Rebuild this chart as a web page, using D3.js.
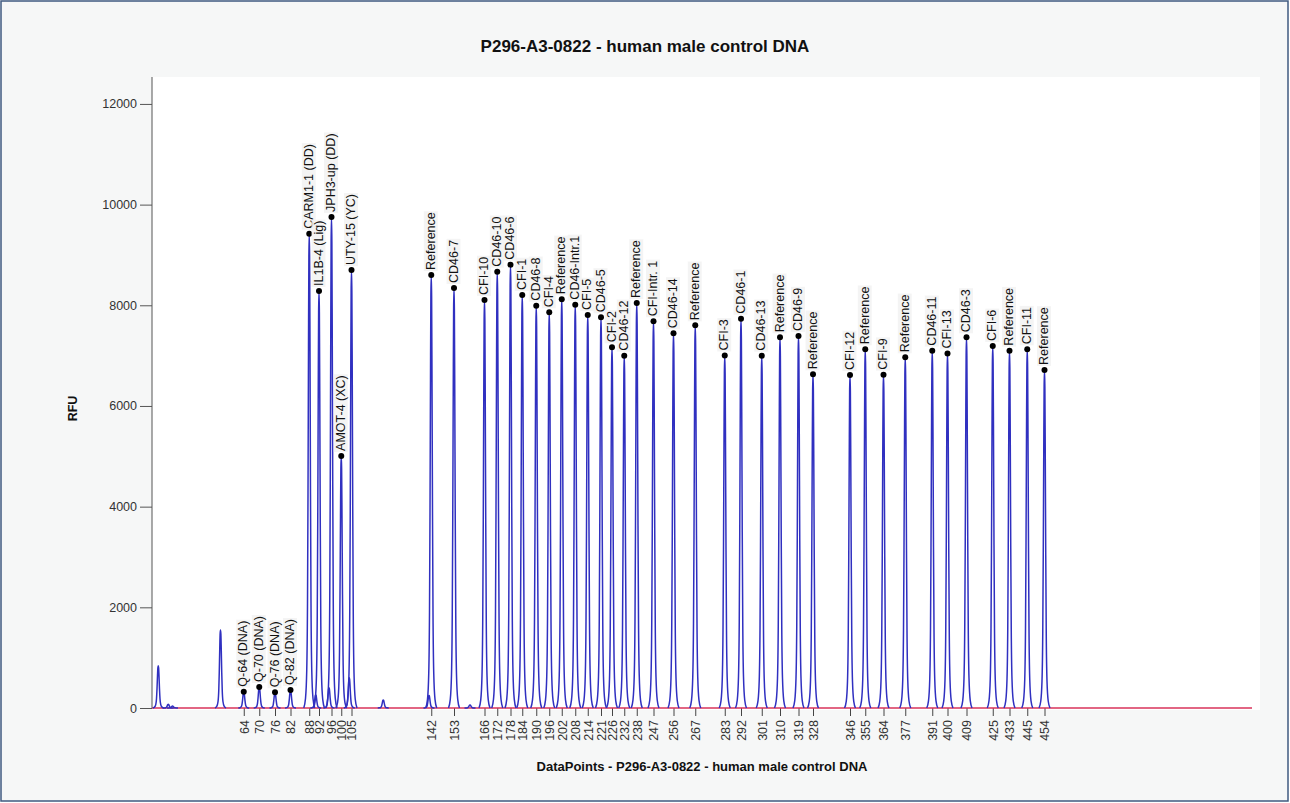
<!DOCTYPE html>
<html>
<head>
<meta charset="utf-8">
<script src="https://cdn.jsdelivr.net/npm/d3@7"></script>
<style>
  body { margin: 0; background: #ffffff; }
  svg { display: block; font-family: Arial, "Liberation Sans", sans-serif; }
</style>
</head>
<body>
<div id="chart"></div>
<script>
// size labels shown under each called peak
const sizeLabels = [64, 70, 76, 82, 88, 92, 96, 100, 105, 142, 153, 166, 172, 178, 184, 190, 196, 202, 208, 214,
  221, 226, 232, 238, 247, 256, 267, 283, 292, 301, 310, 319, 328, 346, 355, 364, 377, 391, 400, 409, 425, 433, 445, 454];

const peakNames = ["Q-64 (DNA)", "Q-70 (DNA)", "Q-76 (DNA)", "Q-82 (DNA)", "CARM1-1 (DD)", "IL1B-4 (Lig)", "JPH3-up (DD)",
  "AMOT-4 (XC)", "UTY-15 (YC)", "Reference", "CD46-7", "CFI-10", "CD46-10", "CD46-6", "CFI-1", "CD46-8", "CFI-4",
  "Reference", "CD46-Intr.1", "CFI-5", "CD46-5", "CFI-2", "CD46-12", "Reference", "CFI-Intr. 1", "CD46-14", "Reference",
  "CFI-3", "CD46-1", "CD46-13", "Reference", "CD46-9", "Reference", "CFI-12", "Reference", "CFI-9", "Reference",
  "CD46-11", "CFI-13", "CD46-3", "CFI-6", "Reference", "CFI-11", "Reference"];

// peak positions in data points
const peakPos = [367, 429, 492, 554, 629, 668, 718, 757, 798, 1117, 1208, 1330, 1381, 1434, 1481, 1537, 1589,
  1639, 1693, 1743, 1796, 1840, 1889, 1939, 2006, 2086, 2173, 2291, 2356, 2439, 2512, 2586, 2644, 2792, 2853,
  2926, 3013, 3121, 3182, 3258, 3363, 3430, 3501, 3570];

// peak heights in RFU
const peakRFU = [324, 417, 311, 357, 9420, 8285, 9755, 5007, 8700, 8603, 8344, 8106, 8668, 8807, 8205, 7993, 7861,
  8119, 8013, 7808, 7762, 7166, 7000, 8046, 7682, 7444, 7603, 7004, 7734, 7000, 7364, 7391, 6630, 6616, 7127,
  6622, 6967, 7099, 7040, 7364, 7192, 7099, 7127, 6716];

// uncalled peaks, shoulders and bumps
const minorPos = [25, 65, 82, 274, 655, 708, 789, 925, 1108, 1272];
const minorRFU = [841, 75, 40, 1550, 260, 400, 600, 160, 250, 60];

const yTicks = [0, 2000, 4000, 6000, 8000, 10000, 12000];

// normalised peak profile: [offset in data points, fraction of height]
const peakShape = [[-22, 0], [-15, 0.02], [-10, 0.08], [-7, 0.22], [-5, 0.45], [-3, 0.76], [-1.5, 0.95], [0, 1],
  [1.5, 0.95], [3, 0.76], [5, 0.45], [7, 0.22], [10, 0.08], [15, 0.02], [22, 0]];

const chartTitle = "P296-A3-0822 - human male control DNA";
const xTitle = "DataPoints - P296-A3-0822 - human male control DNA";

const width = 1290, height = 803;
const plot = { left: 152, right: 1252, top: 77, bottom: 708 };

const svg = d3.select("#chart").append("svg")
  .attr("width", width)
  .attr("height", height);

// page background + frame
svg.append("rect")
  .attr("x", 1).attr("y", 1)
  .attr("width", width - 3).attr("height", height - 3)
  .attr("fill", "#f6f7f7")
  .attr("stroke", "#3f5a80")
  .attr("stroke-width", 1.5);

svg.append("rect")
  .attr("x", plot.left).attr("y", plot.top)
  .attr("width", plot.right - plot.left + 8).attr("height", plot.bottom - plot.top + 2)
  .attr("fill", "#ffffff");

const x = d3.scaleLinear().domain([0, 4400]).range([plot.left, plot.right]);
const y = d3.scaleLinear().domain([0, 12535]).range([plot.bottom, plot.top]);

// title
svg.append("text")
  .attr("x", width / 2).attr("y", 52)
  .attr("text-anchor", "middle")
  .attr("font-size", 17).attr("font-weight", "bold")
  .attr("fill", "#111")
  .text(chartTitle);

// y axis
const yAxis = svg.append("g")
  .attr("transform", `translate(${plot.left},0)`)
  .call(d3.axisLeft(y).tickValues(yTicks).tickSize(12).tickPadding(3).tickFormat(d3.format("d")));
yAxis.select(".domain").attr("stroke", "#555").attr("d", `M0,${plot.top}V${plot.bottom}`);
yAxis.selectAll(".tick line").attr("stroke", "#555");
yAxis.selectAll(".tick text").attr("font-size", 12.5).attr("fill", "#333").attr("font-family", "Arial, 'Liberation Sans', sans-serif");

svg.append("text")
  .attr("transform", `translate(77,${(plot.top + plot.bottom) / 2 + 16}) rotate(-90)`)
  .attr("text-anchor", "middle")
  .attr("font-size", 12.5).attr("font-weight", "bold")
  .attr("fill", "#111")
  .text("RFU");

// x axis: ticks at the called peaks, labelled with size
const xAxis = svg.append("g")
  .attr("transform", `translate(0,${plot.bottom})`)
  .call(d3.axisBottom(x).tickValues(peakPos).tickSize(8).tickFormat((d, i) => sizeLabels[i]));
xAxis.select(".domain").remove();
xAxis.selectAll(".tick line").attr("stroke", "#444");
xAxis.selectAll(".tick text")
  .attr("font-size", 12.5).attr("fill", "#333")
  .attr("font-family", "Arial, 'Liberation Sans', sans-serif")
  .attr("text-anchor", "end")
  .attr("transform", "translate(0,12) rotate(-90)")
  .attr("x", 0).attr("y", 0).attr("dy", "0.35em");

svg.append("text")
  .attr("x", (plot.left + plot.right) / 2).attr("y", 771)
  .attr("text-anchor", "middle")
  .attr("font-size", 13).attr("font-weight", "bold")
  .attr("fill", "#111")
  .text(xTitle);

// baseline
svg.append("line")
  .attr("x1", x(0)).attr("x2", x(4400))
  .attr("y1", y(0)).attr("y2", y(0))
  .attr("stroke", "#d8335a").attr("stroke-width", 1.5);

// trace
const line = d3.line()
  .x(d => x(d[0]))
  .y(d => y(d[1]))
  .curve(d3.curveMonotoneX);

const allPeaks = peakPos.map((p, i) => ({ pos: p, rfu: peakRFU[i] }))
  .concat(minorPos.map((p, i) => ({ pos: p, rfu: minorRFU[i] })));

svg.append("g").selectAll("path")
  .data(allPeaks)
  .enter().append("path")
    .attr("d", d => line(peakShape.map(s => [d.pos + s[0], d.rfu * s[1]])))
    .attr("fill", "none")
    .attr("stroke", "#3030c0")
    .attr("stroke-width", 1.5);

// peak markers + labels
const marks = svg.append("g");
peakPos.forEach((p, i) => {
  const px = x(p), py = y(peakRFU[i]);
  const g = marks.append("g").attr("transform", `translate(${px + 3.5},${py - 5}) rotate(-90)`);
  const t = g.append("text")
    .attr("font-size", 12.5).attr("fill", "#111")
    .text(peakNames[i]);
  const bb = t.node().getBBox();
  g.insert("rect", "text")
    .attr("x", bb.x - 1).attr("y", bb.y)
    .attr("width", bb.width + 2).attr("height", bb.height)
    .attr("fill", "#f1f1f1").attr("opacity", 0.8);
  marks.append("circle")
    .attr("cx", px).attr("cy", py).attr("r", 3)
    .attr("fill", "#000");
});
</script>
</body>
</html>
